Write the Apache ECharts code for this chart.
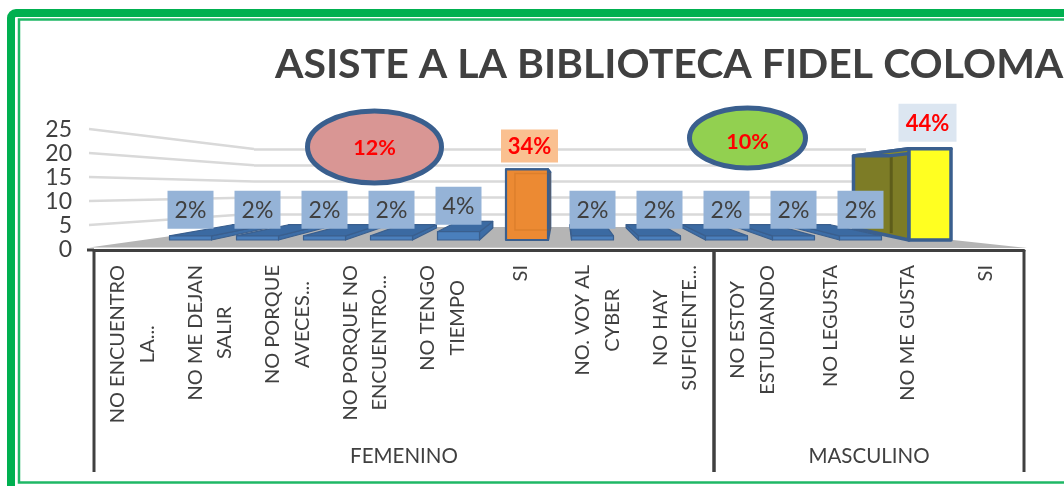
<!DOCTYPE html>
<html><head><meta charset="utf-8">
<style>html,body{margin:0;padding:0;background:#fff}#c{width:1064px;height:486px}</style>
<script src="https://cdn.jsdelivr.net/npm/echarts@6/dist/echarts.min.js"></script>
</head><body><div id="c"></div>
<script>
const titleText = 'ASISTE A LA BIBLIOTECA FIDEL COLOMA';
const axisCategories = ['NO ENCUENTRO\nLA...','NO ME DEJAN\nSALIR','NO PORQUE\nAVECES...','NO PORQUE NO\nENCUENTRO...','NO TENGO\nTIEMPO','SI','NO. VOY AL\nCYBER','NO HAY\nSUFICIENTE...','NO ESTOY\nESTUDIANDO','NO LEGUSTA','NO ME GUSTA','SI'];
const groupNames = ['FEMENINO','MASCULINO'];
const groupSizes = [8,4];
const values = [1,1,1,1,2,17,1,1,1,1,1,22];
const percentLabels = ['2%','2%','2%','2%','4%','34%','2%','2%','2%','2%','2%','44%'];
const yTicks = [5,10,15,20,25];
const calloutLabels = ['12%','10%'];
const barKinds = ['blue','blue','blue','blue','blue','orange','blue','blue','blue','blue','blue','yellow'];

const FONT = 'Lato';
const INK = '#404040';
const OUTLINE = '#3a5f8e';
const kinds = {
  blue:   {front:'#4a7fbc', side:'#3d6da6', top:'#3b6aa2', back:'#365f91', box:'#95b3d7', w:46, h:38, text:INK, size:23, weight:'normal', dx:0, dy:0, barDx:0, edge:1.2},
  orange: {front:'#ec8a33', side:'#c96f22', top:'#d67a2a', back:'#c96f22', box:'#fac090', w:57, h:33, text:'#ff0000', size:22, weight:'bold', dx:4, dy:2.5, barDx:1.5, edge:2.2},
  yellow: {front:'#ffff21', side:'#7d7c26', top:'#8a8a2a', back:'#5e5d1a', box:'#dce6f1', w:58, h:38, text:'#ff0000', size:22, weight:'bold', dx:0, dy:0, barDx:2.5, edge:3.5}
};
// back-wall plane and perspective of the 3D box
const BACK = {left:254, right:866, bottom:230, top:149};
const VP_X = 562, DEPTH = 0.16, BASE_Y = 240, BACK_BASE_Y = 228, Y_SHRINK = 0.79;
const backX = x => x + DEPTH * (VP_X - x);
const backY = y => BACK_BASE_Y - (BASE_Y - y) * Y_SHRINK;

function renderWall(params, api) {
  const v = api.value(1);
  const y0 = api.coord([0, v])[1];
  const y1 = BACK.bottom - v / 25 * (BACK.bottom - BACK.top);
  return {type:'line', shape:{x1:89, y1:y0 - 1, x2:BACK.left, y2:y1},
    style:{stroke:'#d9d9d9', lineWidth:2.5}};
}

function renderGroups(params, api) {
  const i = params.dataIndex;
  const band = api.size([1, 0])[0];
  let start = 0;
  for (let k = 0; k < i; k++) start += groupSizes[k];
  const left = api.coord([start, 0])[0] - band / 2;
  const right = left + band * groupSizes[i];
  const y = api.coord([0, 0])[1];
  const stroke = {stroke:INK, lineWidth:3};
  const kids = [
    {type:'line', shape:{x1:left, y1:y, x2:left, y2:472}, style:stroke},
    {type:'line', shape:{x1:right, y1:y, x2:right, y2:472}, style:stroke},
    {type:'text', style:{x:(left + right) / 2, y:456, text:groupNames[i], align:'center', verticalAlign:'middle',
      fill:INK, font:'20.5px ' + FONT}}
  ];
  if (i === 0) kids.push({type:'line', shape:{x1:87, y1:y, x2:left, y2:y}, style:stroke});
  return {type:'group', children:kids};
}

function renderBar(params, api) {
  const i = params.dataIndex;
  const k = kinds[barKinds[i]];
  const c = api.coord([i, api.value(1)]);
  const base = api.coord([i, 0])[1];
  const hw = 21;
  const xl = c[0] + k.barDx - hw, xr = c[0] + k.barDx + hw, yt = c[1];
  const bl = backX(xl), br = backX(xr), byt = backY(yt), byb = backY(base);
  const edge = {stroke:OUTLINE, lineWidth:k.edge, lineJoin:'round'};
  const kids = [];
  // back face
  kids.push({type:'polygon', shape:{points:[[bl,byt],[br,byt],[br,byb],[bl,byb]]}, style:{fill:k.back, stroke:OUTLINE, lineWidth:1}});
  // visible side
  const sx = xr > VP_X ? [xl, bl] : [xr, br];
  kids.push({type:'polygon', shape:{points:[[sx[0],yt],[sx[1],byt],[sx[1],byb],[sx[0],base]]}, style:{fill:k.side, ...edge}});
  if (barKinds[i] === 'yellow') {
    const mx = sx[1] + (sx[0] - sx[1]) * 0.68;
    kids.push({type:'line', shape:{x1:mx, y1:byt + (yt - byt) * 0.68 + 3, x2:mx, y2:byb + (base - byb) * 0.68 - 3},
      style:{stroke:k.back, lineWidth:3}});
  }
  // top
  kids.push({type:'polygon', shape:{points:[[xl,yt],[xr,yt],[br,byt],[bl,byt]]}, style:{fill:k.top, ...edge}});
  // front
  kids.push({type:'rect', shape:{x:xl, y:yt, width:hw * 2, height:base - yt}, style:{fill:k.front, ...edge}});
  if (barKinds[i] === 'orange') {
    const stroke = 'rgba(170,90,20,0.22)';
    kids.push({type:'polygon', shape:{points:[[bl,yt + 4],[br,yt + 4],[br,base - 10],[bl,base - 10]]},
      style:{fill:'none', stroke, lineWidth:1.5}});
  }
  return {type:'group', children:kids};
}

function renderLabel(params, api) {
  const i = params.dataIndex;
  const k = kinds[barKinds[i]];
  const c = api.coord([i, api.value(1)]);
  const cx = c[0] + k.dx, cy = c[1] - 26 + k.dy;
  return {type:'group', children:[
    {type:'rect', shape:{x:cx - k.w / 2, y:cy - k.h / 2, width:k.w, height:k.h}, style:{fill:k.box}},
    {type:'text', style:{x:cx, y:cy + 1, text:percentLabels[i], align:'center', verticalAlign:'middle', fill:k.text,
      font:k.weight + ' ' + k.size + 'px ' + FONT}}
  ]};
}

function ellipse(cx, cy, rx, ry, fill, text, textDy) {
  return [
    {type:'ellipse', z:6, shape:{cx, cy, rx, ry}, style:{fill, stroke:OUTLINE, lineWidth:5}},
    {type:'text', z:7, x:cx, y:cy + textDy, style:{text, align:'center', verticalAlign:'middle', fill:'#ff0000', font:'bold 21.5px ' + FONT}}
  ];
}

const barIdx = {xAxisIndex:2, yAxisIndex:2};
const option = {
  animation:false,
  backgroundColor:'#fff',
  title:{text:titleText, left:270, top:39, textStyle:{fontFamily:FONT, fontWeight:'bold', fontSize:41, color:INK}},
  grid:[
    {left:94, width:930, top:130, height:120},
    {left:BACK.left, width:BACK.right - BACK.left, top:BACK.top, height:BACK.bottom - BACK.top},
    {left:157, width:804, top:BASE_Y - 25 * 4.15, height:25 * 4.15}
  ],
  xAxis:[
    {type:'category', gridIndex:0, data:axisCategories,
      axisLine:{lineStyle:{color:INK, width:3}}, axisTick:{show:false},
      axisLabel:{interval:0, rotate:90, margin:15, color:INK,
        formatter:v => v.split('\n').map(l => '{c|' + l + '}').join('\n'),
        rich:{c:{align:'center', fontFamily:FONT, fontSize:20, lineHeight:29.5, color:INK}}}},
    {type:'value', gridIndex:1, min:0, max:1, show:false},
    {type:'category', gridIndex:2, data:axisCategories, show:false}
  ],
  yAxis:[
    {type:'value', gridIndex:0, min:0, max:25, interval:5, axisLine:{show:false}, axisTick:{show:false}, splitLine:{show:false},
      axisLabel:{margin:22, color:INK, fontFamily:FONT, fontSize:23}},
    {type:'value', gridIndex:1, min:0, max:25, interval:5, axisLine:{show:false}, axisTick:{show:false}, axisLabel:{show:false},
      splitLine:{lineStyle:{color:'#d9d9d9', width:2.5}}},
    {type:'value', gridIndex:2, min:0, max:25, show:false, splitLine:{show:false}}
  ],
  series:[
    {type:'custom', z:1, silent:true, xAxisIndex:0, yAxisIndex:0, data:yTicks.map(t => [0, t]), renderItem:renderWall},
    {type:'custom', z:2, silent:true, xAxisIndex:0, yAxisIndex:0, data:groupNames.map(() => [0, 0]), renderItem:renderGroups},
    {type:'custom', z:4, silent:true, ...barIdx, data:values.map((v, i) => [i, v]), renderItem:renderBar},
    {type:'custom', z:5, silent:true, ...barIdx, data:values.map((v, i) => [i, v]), renderItem:renderLabel}
  ],
  graphic:{elements:[
    {type:'rect', z:0, shape:{x:11, y:13, width:1120, height:540, r:5}, style:{fill:'none', stroke:'#00b050', lineWidth:8}},
    {type:'rect', z:0, shape:{x:19, y:19.5, width:1120, height:463}, style:{fill:'none', stroke:'#1fb866', lineWidth:2.5}},
    {type:'polygon', z:1, shape:{points:[[89,247.5],[236,227],[870,227],[953,240],[1027,248]]}, style:{fill:'#b5b5b5'}},
    ...ellipse(374.5, 147, 67, 36, '#d99694', calloutLabels[0], 1.5),
    ...ellipse(747.5, 138, 58, 30, '#92d050', calloutLabels[1], 4)
  ]}
};
const chart = echarts.init(document.getElementById('c'), null, {renderer:'canvas'});
chart.setOption(option);
</script></body></html>
